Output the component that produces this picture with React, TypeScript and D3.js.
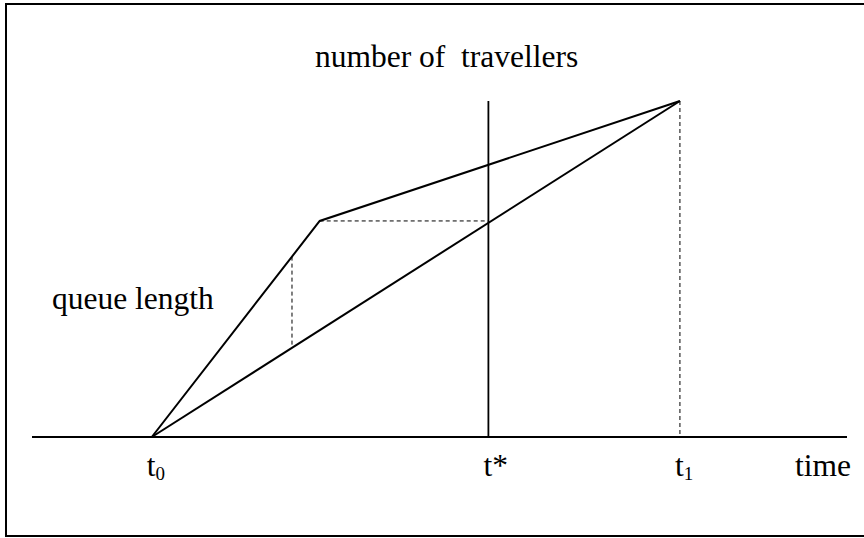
import * as d3 from "d3";
import { useEffect } from "react";

const width = 864;
const height = 538;

// cumulative arrivals (upper curve) and departures (lower curve)
const arrivalTimes = [1.47, 3.53, 7.95];
const arrivalCounts = [0, 6.43, 10];
const departureTimes = [1.47, 7.95];
const departureCounts = [0, 10];

// marker times
const queueTime = 3.19;
const tStar = 5.6;
const tickTimes = [1.47, 5.6, 7.95];
const tickMain = ["t", "t", "t"];
const tickSub = ["0", "", "1"];
const tickSup = ["", "*", ""];

const fontSize = 31.5;

export default function App() {
  useEffect(() => {
    document.body.style.margin = "0";
  }, []);

  const x = d3.scaleLinear().domain([0, 10]).range([32, 847]);
  const y = d3.scaleLinear().domain([0, 10]).range([437, 101]);

  const line = d3
    .line<[number, number]>()
    .x((d) => x(d[0]))
    .y((d) => y(d[1]));

  const arrivals = arrivalTimes.map((t, i) => [t, arrivalCounts[i]] as [number, number]);
  const departures = departureTimes.map((t, i) => [t, departureCounts[i]] as [number, number]);

  // count at a given time
  const arrivalAt = d3.scaleLinear().domain(arrivalTimes).range(arrivalCounts);
  const departureAt = d3.scaleLinear().domain(departureTimes).range(departureCounts);

  const kink = arrivals[1];
  const tEnd = departureTimes[departureTimes.length - 1];

  return (
    <svg
      width={width}
      height={height}
      style={{
        display: "block",
        background: "white",
        fontFamily: '"Liberation Serif", "Times New Roman", Times, serif',
        fontSize,
      }}
    >
      {/* frame */}
      <rect x={6} y={4} width={870} height={532} fill="none" stroke="black" strokeWidth={2} />

      {/* time axis */}
      <line x1={x(0)} x2={x(10)} y1={y(0)} y2={y(0)} stroke="black" strokeWidth={2} />

      {/* vertical at t* */}
      <line x1={x(tStar)} x2={x(tStar)} y1={y(0)} y2={y(10)} stroke="black" strokeWidth={1.8} />

      {/* dashed guides */}
      <line
        x1={x(queueTime)} x2={x(queueTime)}
        y1={y(arrivalAt(queueTime))} y2={y(departureAt(queueTime))}
        stroke="black" strokeWidth={1} strokeDasharray="4,3"
      />
      <line
        x1={x(kink[0])} x2={x(tStar)}
        y1={y(kink[1])} y2={y(kink[1])}
        stroke="black" strokeWidth={1} strokeDasharray="4,3"
      />
      <line
        x1={x(tEnd)} x2={x(tEnd)}
        y1={y(departureAt(tEnd))} y2={y(0)}
        stroke="black" strokeWidth={1} strokeDasharray="4,3"
      />

      {/* curves */}
      <path d={line(arrivals) ?? ""} fill="none" stroke="black" strokeWidth={2} />
      <path d={line(departures) ?? ""} fill="none" stroke="black" strokeWidth={2} />

      {/* labels */}
      <text x={315} y={67} style={{ whiteSpace: "pre" }}>number of  travellers</text>
      <text x={52} y={309}>queue length</text>
      <text x={795} y={476}>time</text>

      {tickTimes.map((t, i) => (
        <text key={i} x={x(t) - 5} y={476}>
          {tickMain[i]}
          {tickSub[i] && (
            <tspan fontSize={19} dy={4}>{tickSub[i]}</tspan>
          )}
          {tickSup[i] && <tspan>{tickSup[i]}</tspan>}
        </text>
      ))}
    </svg>
  );
}
